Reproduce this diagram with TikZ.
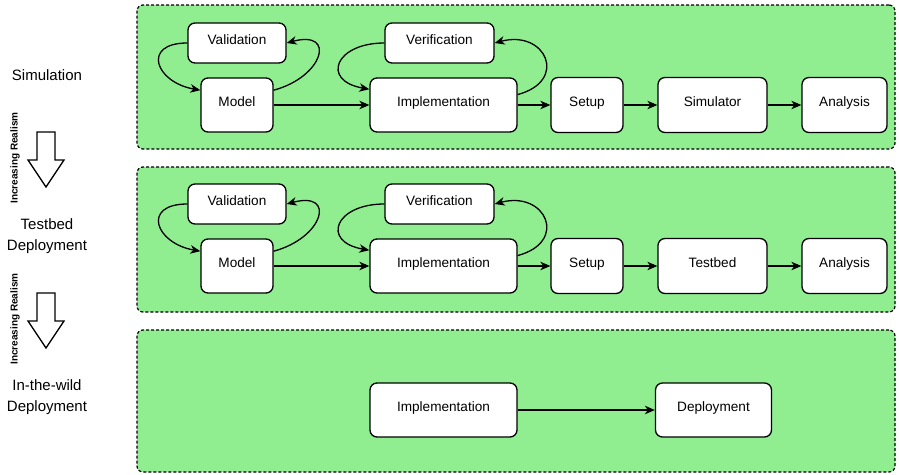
\documentclass[tikz,border=0pt]{standalone}
\usepackage{fontspec}
\setmainfont{Liberation Sans}
\usepackage{xcolor}
\usepackage{tikz}
\usetikzlibrary{
  arrows.meta
}

\definecolor{stagegreen}{RGB}{144,238,144}

\begin{document}
\begin{tikzpicture}[
  x=1pt, y=1pt,
  stage/.style={draw=black, fill=stagegreen, dash pattern=on 3pt off 2pt, line width=1.2pt,
                rounded corners=6pt, inner sep=0pt, minimum width=758pt},
  box/.style={draw=black, fill=white, line width=1.3pt, rounded corners=7pt, inner sep=0pt,
              font=\fontsize{13.6}{16}\selectfont, text height=10pt, text depth=8pt},
  flow/.style={-{Stealth[length=10pt, width=8.5pt, inset=3pt]}, line width=1.3pt},
  level/.style={font=\fontsize{15}{21}\selectfont, align=center},
  realism/.style={font=\fontsize{10}{12}\selectfont\bfseries, rotate=90}
]
\useasboundingbox (0,0) rectangle (899,-474);

% the three stages
\node[stage, minimum height=144pt] (simstage) at (516,-77) {};
\node[stage, minimum height=145pt] (bedstage) at (516,-239.5) {};
\node[stage, minimum height=142pt] (wildstage) at (516,-401) {};

% stage names on the left
\node[level] (simname)  at (47,-75)  {Simulation};
\node[level] (bedname)  at (47,-236) {Testbed\\Deployment};
\node[level] (wildname) at (47,-397) {In-the-wild\\Deployment};

% realism arrows between the stages
\node[realism] (real1) at (15,-158) {Increasing Realism};
\draw[line width=1.3pt, fill=white]
  (37,-132) -- (55,-132) -- (55,-160) -- (64,-160) -- (46,-187) -- (28,-160) -- (37,-160) -- cycle;
\node[realism] (real2) at (15,-319) {Increasing Realism};
\draw[line width=1.3pt, fill=white]
  (37,-293) -- (55,-293) -- (55,-321) -- (64,-321) -- (46,-348) -- (28,-321) -- (37,-321) -- cycle;

% simulation
\node[box, minimum width=98pt,  minimum height=40pt] (val1) at (237,-43)    {Validation};
\node[box, minimum width=72pt,  minimum height=54pt] (mod1) at (237,-105)   {Model};
\node[box, minimum width=109pt, minimum height=40pt] (ver1) at (439.5,-43)  {Verification};
\node[box, minimum width=147pt, minimum height=54pt] (imp1) at (443.5,-105) {Implementation};
\node[box, minimum width=72pt,  minimum height=55pt] (set1) at (587,-105)   {Setup};
\node[box, minimum width=109pt, minimum height=55pt] (sim1) at (712.5,-105) {Simulator};
\node[box, minimum width=85pt,  minimum height=55pt] (ana1) at (844.5,-105) {Analysis};

\draw[flow] (val1.west) to[out=180, in=170, looseness=2.4] (mod1.158);
\draw[flow] (mod1.22) to[out=15, in=15, looseness=2.7] (val1.east);
\draw[flow] (ver1.west) to[out=180, in=170, looseness=2.6] (imp1.168);
\draw[flow] (imp1.8) to[out=15, in=15, looseness=2.4] (ver1.east);
\draw[flow] (mod1.east) -- (imp1.west);
\draw[flow] (imp1.east) -- (set1.west);
\draw[flow] (set1.east) -- (sim1.west);
\draw[flow] (sim1.east) -- (ana1.west);

% testbed
\node[box, minimum width=98pt,  minimum height=40pt] (val2) at (237,-204)    {Validation};
\node[box, minimum width=72pt,  minimum height=54pt] (mod2) at (237,-266)   {Model};
\node[box, minimum width=109pt, minimum height=40pt] (ver2) at (439.5,-204)  {Verification};
\node[box, minimum width=147pt, minimum height=54pt] (imp2) at (443.5,-266) {Implementation};
\node[box, minimum width=72pt,  minimum height=55pt] (set2) at (587,-266)   {Setup};
\node[box, minimum width=109pt, minimum height=55pt] (bed2) at (712.5,-266) {Testbed};
\node[box, minimum width=85pt,  minimum height=55pt] (ana2) at (844.5,-266) {Analysis};

\draw[flow] (val2.west) to[out=180, in=170, looseness=2.4] (mod2.158);
\draw[flow] (mod2.22) to[out=15, in=15, looseness=2.7] (val2.east);
\draw[flow] (ver2.west) to[out=180, in=170, looseness=2.6] (imp2.168);
\draw[flow] (imp2.8) to[out=15, in=15, looseness=2.4] (ver2.east);
\draw[flow] (mod2.east) -- (imp2.west);
\draw[flow] (imp2.east) -- (set2.west);
\draw[flow] (set2.east) -- (bed2.west);
\draw[flow] (bed2.east) -- (ana2.west);

% in the wild
\node[box, minimum width=147pt, minimum height=54pt] (imp3) at (443.5,-410) {Implementation};
\node[box, minimum width=116pt, minimum height=54pt] (dep3) at (713.5,-410) {Deployment};
\draw[flow] (imp3.east) -- (dep3.west);
\end{tikzpicture}
\end{document}
